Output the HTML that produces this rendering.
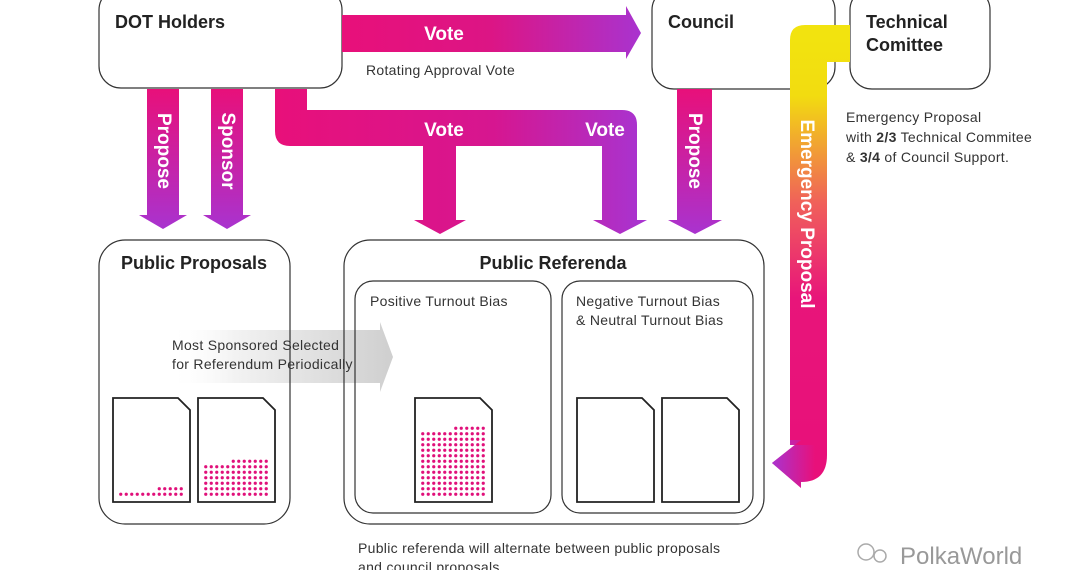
<!DOCTYPE html>
<html><head><meta charset="utf-8"><style>
html,body{margin:0;padding:0;background:#fff;}
svg{display:block;font-family:"Liberation Sans",sans-serif;}
</style></head><body>
<svg width="1080" height="570" viewBox="0 0 1080 570" xmlns="http://www.w3.org/2000/svg">
<defs>
<linearGradient id="hz" x1="0" y1="0" x2="1" y2="0"><stop offset="0" stop-color="#e8107a"/><stop offset="0.5" stop-color="#dc1585"/><stop offset="1" stop-color="#a933cf"/></linearGradient>
<linearGradient id="vt" x1="0" y1="0" x2="0" y2="1"><stop offset="0" stop-color="#e8107a"/><stop offset="1" stop-color="#a933cf"/></linearGradient>
<linearGradient id="tb" gradientUnits="userSpaceOnUse" x1="275" y1="0" x2="640" y2="0"><stop offset="0" stop-color="#e8107a"/><stop offset="0.6" stop-color="#d61690"/><stop offset="1" stop-color="#a933cf"/></linearGradient>
<linearGradient id="em" gradientUnits="userSpaceOnUse" x1="0" y1="40" x2="0" y2="470"><stop offset="0" stop-color="#f2e30f"/><stop offset="0.13" stop-color="#f2dc10"/><stop offset="0.38" stop-color="#f0605a"/><stop offset="0.6" stop-color="#e8157a"/><stop offset="1" stop-color="#e8107a"/></linearGradient>
<linearGradient id="emh" gradientUnits="userSpaceOnUse" x1="772" y1="0" x2="815" y2="0"><stop offset="0" stop-color="#a933cf"/><stop offset="1" stop-color="#a933cf" stop-opacity="0"/></linearGradient>
<linearGradient id="gr" x1="0" y1="0" x2="1" y2="0"><stop offset="0" stop-color="#fff" stop-opacity="0"/><stop offset="0.3" stop-color="#f2f2f2"/><stop offset="1" stop-color="#cfcfcf"/></linearGradient>
<pattern id="d1" patternUnits="userSpaceOnUse" x="118" y="486" width="5.5" height="5.5"><circle cx="2.75" cy="2.75" r="1.6" fill="#e0107a"/></pattern>
<pattern id="d2" patternUnits="userSpaceOnUse" x="203" y="458.5" width="5.5" height="5.5"><circle cx="2.75" cy="2.75" r="1.6" fill="#e0107a"/></pattern>
<pattern id="d3" patternUnits="userSpaceOnUse" x="420" y="425.5" width="5.5" height="5.5"><circle cx="2.75" cy="2.75" r="1.6" fill="#e0107a"/></pattern>
</defs>

<!-- grey arrow -->
<path d="M168,330 L380,330 L380,322 L393,357 L380,392 L380,383 L168,383 Z" fill="url(#gr)"/>

<!-- boxes -->
<g fill="none" stroke="#333" stroke-width="1.2">
<rect x="99" y="-12" width="243" height="100" rx="22" fill="#fff"/>
<rect x="652" y="-12" width="183" height="101" rx="22"/>
<rect x="850" y="-12" width="140" height="101" rx="22" fill="#fff"/>
<rect x="99" y="240" width="191" height="284" rx="26"/>
<rect x="344" y="240" width="420" height="284" rx="26"/>
<rect x="355" y="281" width="196" height="232" rx="18"/>
<rect x="562" y="281" width="191" height="232" rx="18"/>
</g>

<!-- top vote arrow -->
<path d="M342,15 L626,15 L626,6 L641,33 L626,59 L626,52 L342,52 Z" fill="url(#hz)"/>
<text x="444" y="40" fill="#fff" font-size="19" font-weight="bold" text-anchor="middle">Vote</text>

<!-- propose / sponsor -->
<path d="M147,89 L179,89 L179,215 L187,215 L163,229 L139,215 L147,215 Z" fill="url(#vt)"/>
<path d="M211,89 L243,89 L243,215 L251,215 L227,229 L203,215 L211,215 Z" fill="url(#vt)"/>
<text transform="translate(158,151) rotate(90)" fill="#fff" font-size="19" font-weight="bold" text-anchor="middle">Propose</text>
<text transform="translate(222,151) rotate(90)" fill="#fff" font-size="19" font-weight="bold" text-anchor="middle">Sponsor</text>

<!-- T shape -->
<path d="M275,89 L307,89 L307,110 L622,110 Q637,110 637,125 L637,220 L647,220 L620,234 L593,220 L602,220 L602,146 L456,146 L456,220 L466,220 L440,234 L414,220 L423,220 L423,146 L290,146 Q275,146 275,131 Z" fill="url(#tb)"/>
<text x="444" y="136" fill="#fff" font-size="19" font-weight="bold" text-anchor="middle">Vote</text>
<text x="605" y="136" fill="#fff" font-size="19" font-weight="bold" text-anchor="middle">Vote</text>

<!-- council propose -->
<path d="M677,89 L712,89 L712,220 L722,220 L695,234 L668,220 L677,220 Z" fill="url(#vt)"/>
<text transform="translate(689,151) rotate(90)" fill="#fff" font-size="19" font-weight="bold" text-anchor="middle">Propose</text>

<!-- emergency -->
<path d="M850,25 L805,25 Q790,25 790,40 L790,445 L801,445 L801,440 L772,463 L801,488 L801,482 Q827,482 827,455 L827,62 L850,62 Z" fill="url(#em)"/>
<path d="M790,440 L801,440 L772,463 L801,488 L801,482 Q815,482 815,470 L815,445 L790,445 Z" fill="url(#emh)"/>
<text transform="translate(801,214) rotate(90)" fill="#fff" font-size="19" font-weight="bold" text-anchor="middle">Emergency Proposal</text>

<!-- labels -->
<g fill="#222" font-size="18" font-weight="bold">
<text x="115" y="28">DOT Holders</text>
<text x="668" y="28">Council</text>
<text x="866" y="28">Technical</text>
<text x="866" y="51">Comittee</text>
<text x="194" y="269" text-anchor="middle">Public Proposals</text>
<text x="553" y="269" text-anchor="middle">Public Referenda</text>
</g>
<g fill="#333" font-size="14" letter-spacing="0.3">
<text x="366" y="75">Rotating Approval Vote</text>
<text x="846" y="122">Emergency Proposal</text>
<text x="846" y="142">with <tspan font-weight="bold">2/3</tspan> Technical Commitee</text>
<text x="846" y="162">&amp; <tspan font-weight="bold">3/4</tspan> of Council Support.</text>
<text x="370" y="306">Positive Turnout Bias</text>
<text x="576" y="306">Negative Turnout Bias</text>
<text x="576" y="325">&amp; Neutral Turnout Bias</text>
<text x="172" y="350">Most Sponsored Selected</text>
<text x="172" y="369">for Referendum Periodically</text>
<text x="358" y="553">Public referenda will alternate between public proposals</text>
<text x="358" y="572">and council proposals</text>
</g>

<!-- docs -->
<g fill="#fff" stroke="#222" stroke-width="1.8">
<path d="M113,398 L178,398 L190,410 L190,502 L113,502 Z"/>
<path d="M198,398 L263,398 L275,410 L275,502 L198,502 Z"/>
<path d="M415,398 L480,398 L492,410 L492,502 L415,502 Z"/>
<path d="M577,398 L642,398 L654,410 L654,502 L577,502 Z"/>
<path d="M662,398 L727,398 L739,410 L739,502 L662,502 Z"/>
</g>
<rect x="118" y="491.5" width="66" height="5.5" fill="url(#d1)"/>
<rect x="156.5" y="486" width="27.5" height="5.5" fill="url(#d1)"/>
<rect x="203" y="464" width="66" height="33" fill="url(#d2)"/>
<rect x="230.5" y="458.5" width="38.5" height="5.5" fill="url(#d2)"/>
<rect x="420" y="431" width="66" height="66" fill="url(#d3)"/>
<rect x="453" y="425.5" width="33" height="5.5" fill="url(#d3)"/>

<!-- watermark -->
<text x="900" y="564" fill="#999" font-size="24">PolkaWorld</text>
<circle cx="866" cy="552" r="8" fill="none" stroke="#aaa" stroke-width="1.5"/>
<circle cx="880" cy="556" r="6" fill="none" stroke="#aaa" stroke-width="1.5"/>
</svg>
</body></html>
